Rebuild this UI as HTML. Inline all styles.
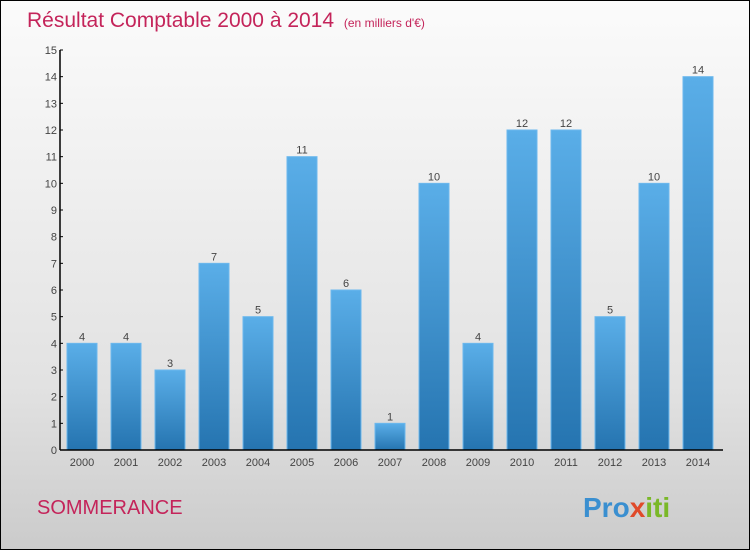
<!DOCTYPE html>
<html><head><meta charset="utf-8"><style>
body{margin:0;width:750px;height:550px;overflow:hidden;font-family:"Liberation Sans",sans-serif}
#wrap{position:absolute;left:0;top:0;width:748px;height:548px;border:1px solid #000;background:linear-gradient(#fbfbfb,#e2e2e2 70%,#cbcbcb)}
</style></head><body>
<div id="wrap">
<svg id="svg" width="748" height="548" xmlns="http://www.w3.org/2000/svg">
<defs><linearGradient id="bg" x1="0" y1="0" x2="0" y2="1"><stop offset="0" stop-color="#5aaee8"/><stop offset="1" stop-color="#2574b0"/></linearGradient></defs>
<text x="26" y="26" font-size="21" fill="#c4245a">Résultat Comptable 2000 à 2014 <tspan font-size="12" dx="4">(en milliers d'€)</tspan></text>
<g id="plot"></g>
<text x="36" y="513" font-size="20" fill="#c4245a">SOMMERANCE</text>
<text x="582" y="516" font-size="28" font-weight="bold" fill="#3a8fd0">Pro<tspan fill="#e04a2a">x</tspan><tspan fill="#7ab828">iti</tspan></text>
</svg></div>
<script>
const years=["2000","2001","2002","2003","2004","2005","2006","2007","2008","2009","2010","2011","2012","2013","2014"];
const values=[4,4,3,7,5,11,6,1,10,4,12,12,5,10,14];
const yTicks=[0,1,2,3,4,5,6,7,8,9,10,11,12,13,14,15];
const NS="http://www.w3.org/2000/svg";
const g=document.getElementById('plot');
const x0=59,y0=449,yTop=49,yMax=15;
const y=v=>y0-(y0-yTop)*v/yMax;
const xc=i=>81+i*44;
function mk(t,a,p){const e=document.createElementNS(NS,t);for(const k in a)e.setAttribute(k,a[k]);(p||g).appendChild(e);return e;}
yTicks.forEach(t=>{
 const l=mk('line',{x1:x0,x2:x0+3,y1:y(t),y2:y(t),stroke:'#000'});
 
 
 const tx=mk('text',{x:x0-3,y:y(t)+4,'font-size':11,'text-anchor':'end',fill:'#444'});
 tx.textContent=t;
 
 
});
values.forEach((v,i)=>{
 const r=mk('rect',{x:xc(i)-15,y:y(v),width:30,height:y0-y(v),fill:'url(#bg)',stroke:'#6cb8ee','stroke-width':1});
 
 
 const vl=mk('text',{x:xc(i),y:y(v)-3,'font-size':11,'text-anchor':'middle',fill:'#444'});
 vl.textContent=v;
 
 
 const xl=mk('text',{x:xc(i),y:y0+16,'font-size':11,'text-anchor':'middle',fill:'#444'});
 xl.textContent=years[i];
 
 
});
const ya=mk('line',{x1:x0,x2:x0,y1:yTop,y2:y0,stroke:'#000','stroke-width':1.5});


const xa=mk('line',{x1:x0,x2:722,y1:y0,y2:y0,stroke:'#000','stroke-width':1.5});


</script>
</body></html>
